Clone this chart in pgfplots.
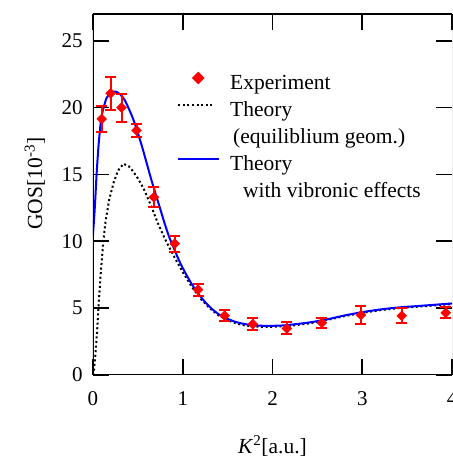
\documentclass[border=0pt]{standalone}
\usepackage{fontspec}
\setmainfont{Liberation Serif}
\usepackage{pgfplots}
\pgfplotsset{compat=1.18}
\usetikzlibrary{calc,shapes.geometric}

\pgfplotstableread{
x y e
0.097 19.15 1.0
0.197 21.07 1.25
0.318 20.0 1.05
0.485 18.3 0.5
0.678 13.3 0.75
0.911 9.83 0.6
1.17 6.39 0.45
1.467 4.43 0.4
1.78 3.8 0.45
2.16 3.48 0.45
2.55 3.9 0.4
2.985 4.48 0.65
3.44 4.43 0.55
3.93 4.65 0.4
}\expdata

\begin{document}
\fontsize{21.5}{26}\selectfont
\begin{tikzpicture}
\begin{axis}[name=ax, width=359pt, height=361pt, scale only axis,
 xmin=0, xmax=4, ymin=0, ymax=27,
 xtick={0,1,2,3,4}, ytick={0,5,10,15,20,25},
 tick align=inside, major tick length=16pt,
 tick style={line width=1.6pt, black},
 axis line style={draw=none},
 /pgf/number format/assume math mode=true,
 tick label style={font=\fontsize{21}{25}\selectfont},
 yticklabel style={xshift=-3pt},
 xticklabel style={yshift=-9pt},
 xlabel={\textit{K}\textsuperscript{2}[a.u.]},
 ylabel={GOS[10\textsuperscript{-3}]},
 xlabel style={at={(axis description cs:0.5,-0.197)}, anchor=center},
 ylabel style={at={(axis description cs:-0.162,0.53)}, anchor=center},
 label style={font=\fontsize{21.5}{26}\selectfont},
 legend style={draw=none, fill=none, inner sep=0pt, at={(axis description cs:0.234,0.841)}, anchor=north west,
   row sep=3pt, column sep=8pt, font=\fontsize{21.5}{26}\selectfont,
   nodes={text height=15pt, text depth=5pt, inner sep=2pt}},
 legend cell align=left,
]
\addlegendimage{legend image code/.code={\path[draw=none] (0pt,6pt) -- (41pt,6pt); \node[fill=red, draw=none, diamond, aspect=1, anchor=center, text height=0pt, text depth=0pt, inner sep=0pt, minimum size=13pt] at (20pt,6pt) {};}}
\addlegendentry{Experiment}
\addlegendimage{legend image code/.code={\path[draw=none] (0pt,6pt) -- (41pt,6pt); \draw[black, line width=2pt, dash pattern=on 2pt off 2.6pt] (0pt,6pt) -- (36pt,6pt);}}
\addlegendentry{Theory}
\addlegendimage{empty legend}
\addlegendentry{\hspace{3pt}(equiliblium geom.)}
\addlegendimage{legend image code/.code={\draw[blue, line width=2pt] (0pt,6pt) -- (41pt,6pt);}}
\addlegendentry{Theory}
\addlegendimage{empty legend}
\addlegendentry{\hspace{13pt}with vibronic effects}

\addplot[forget plot, black, line width=2pt, dash pattern=on 2pt off 2.6pt] coordinates {
(0,0)(0.01,0.3)(0.02,1)(0.03,1.8)(0.045,3.2)(0.06,5)(0.085,7.5)(0.115,10)(0.14,11.5)(0.18,13.1)(0.23,14.4)(0.28,15.3)(0.34,15.8)(0.4,15.6)(0.45,15.2)(0.5,14.7)(0.56,14.0)(0.6,13.4)(0.65,12.6)(0.72,11.4)(0.8,10.2)(0.9,8.9)(1.0,7.7)(1.1,6.6)(1.2,5.7)(1.3,5.0)(1.4,4.45)(1.5,4.1)(1.6,3.85)(1.7,3.7)(1.8,3.63)(1.9,3.6)(2.0,3.6)(2.2,3.68)(2.4,3.85)(2.6,4.1)(2.8,4.4)(3.0,4.65)(3.2,4.85)(3.4,5.0)(3.6,5.1)(3.8,5.2)(4.0,5.3)};
\addplot[forget plot, blue, line width=2pt, smooth] coordinates {
(0,10.5)(0.02,12.5)(0.04,15)(0.06,17)(0.08,18.5)(0.1,19.5)(0.15,20.7)(0.2,21.1)(0.25,21.2)(0.3,21.0)(0.35,20.6)(0.4,19.9)(0.45,19.1)(0.5,18.1)(0.55,17.0)(0.6,15.8)(0.65,14.6)(0.7,13.5)(0.75,12.4)(0.8,11.3)(0.85,10.3)(0.9,9.5)(0.95,8.7)(1.0,8.0)(1.1,6.8)(1.2,5.85)(1.3,5.1)(1.4,4.55)(1.5,4.2)(1.6,3.95)(1.7,3.8)(1.8,3.72)(1.9,3.68)(2.0,3.68)(2.1,3.7)(2.2,3.76)(2.4,3.92)(2.6,4.15)(2.8,4.45)(3.0,4.7)(3.2,4.9)(3.4,5.05)(3.6,5.15)(3.8,5.25)(4.0,5.35)};
\addplot[forget plot, red, only marks, mark=square*, mark size=3.5pt, mark options={rotate=45, red},
  error bars/.cd, y dir=both, y explicit,
  error bar style={red, line width=2pt},
  error mark options={rotate=90, red, mark size=5.5pt, line width=2pt}]
  table[x=x, y=y, y error=e] {\expdata};

\draw[line width=1.6pt] (rel axis cs:1,1) -- (rel axis cs:0,1) -- (rel axis cs:0,0) -- (rel axis cs:1,0);
\draw[line width=0.8pt, black!60] (rel axis cs:1,0) -- (rel axis cs:1,1);
\end{axis}
\pgfresetboundingbox
\useasboundingbox ($(ax.south west)+(-93pt,-84pt)$) rectangle ($(ax.north east)+(1pt,14pt)$);
\end{tikzpicture}
\end{document}
